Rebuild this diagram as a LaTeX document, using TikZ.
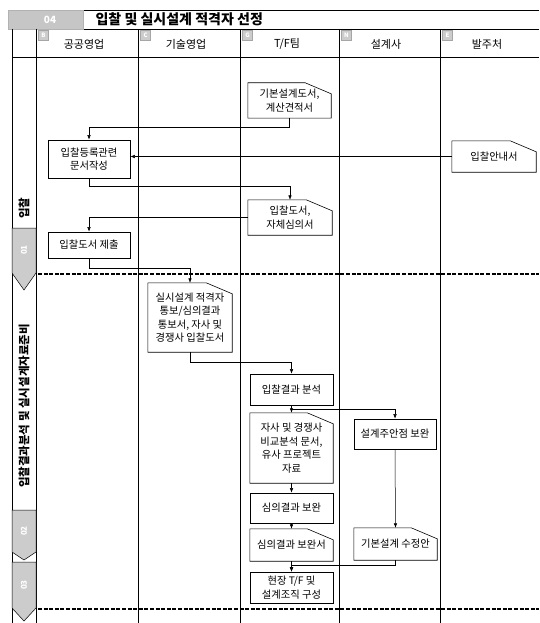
\documentclass[tikz,border=0pt]{standalone}
\usepackage{fontspec}
\setmainfont{Noto Sans CJK KR}
\usetikzlibrary{arrows.meta}
\newcommand\docout[1]{\draw[shp] (#1.south west) -- (#1.north west) -- ([xshift=-26pt]#1.north east) -- ([yshift=-11pt]#1.north east) -- (#1.south east) -- cycle;}
\begin{document}
\begin{tikzpicture}[x=1pt,y=-1pt,
  nodefont/.style={font=\fontsize{10.3}{13.5}\selectfont},
  box/.style={draw, line width=0.6pt, inner sep=0pt, align=center, nodefont, minimum width=83pt},
  doc/.style={inner sep=0pt, align=center, nodefont, minimum width=83pt},
  shp/.style={line width=0.6pt},
  arr/.style={line width=0.5pt, -{Latex[length=4.5pt,width=3.5pt]}},
  col/.style={line width=0.6pt},
  sepline/.style={line width=1.7pt, dash pattern=on 4pt off 1.6pt},
  hdr/.style={font=\fontsize{11}{12}\selectfont},
  hbadge/.style={fill=gray!40, draw=gray!70, line width=0.3pt, minimum size=10pt, inner sep=0pt, font=\fontsize{6}{6}\selectfont\bfseries, text=white},
  stepbadge/.style={fill=gray!40, draw, line width=0.5pt},
  steptext/.style={rotate=90, font=\fontsize{8}{8}\selectfont\bfseries, text=white},
  striplabel/.style={rotate=90, font=\fontsize{11.5}{12}\selectfont\bfseries}]
\useasboundingbox (0,0) rectangle (539,623);

% title bar
\draw[col] (8,10) -- (539,10);
\draw[col] (8,29) -- (539,29);
\draw[col] (12,57) -- (539,57);
\draw[fill=gray!45, draw=gray!60] (8,10) rectangle (83,29);
\node[font=\fontsize{10}{10}\selectfont\bfseries, text=white] (tb) at (50,19.5) {04};
\node[anchor=west, font=\fontsize{14}{14}\selectfont\bfseries] (title) at (92,19.5) {입찰 및 실시설계 적격자 선정};

% column lines
\foreach \x in {12,36,138,240,339,440} \draw[col] (\x,29) -- (\x,623);

% header
\node[hdr] (h1) at (84,44) {공공영업};
\node[hdr] (h2) at (186,44) {기술영업};
\node[hdr] (h3) at (287,44) {T/F팀};
\node[hdr] (h4) at (386,44) {설계사};
\node[hdr] (h5) at (487,44) {발주처};
\node[hbadge] (hb1) at (43.5,35.5) {B};
\node[hbadge] (hb2) at (145.5,35.5) {C};
\node[hbadge] (hb3) at (247.5,35.5) {G};
\node[hbadge] (hb4) at (346.5,35.5) {N};
\node[hbadge] (hb5) at (447.5,35.5) {E};

% left strip
\node[striplabel] (s1) at (24,208) {입찰};
\draw[stepbadge] (12,228) -- (36,228) -- (36,273) -- (24,290) -- (12,273) -- cycle;
\node[steptext] (st1) at (24,250) {01};
\node[striplabel] (s2) at (24,406) {입찰결과분석 및 실시설계자료준비};
\draw[stepbadge] (12,510) -- (36,510) -- (36,552) -- (24,560) -- (12,552) -- cycle;
\node[steptext] (st2) at (24,531) {02};
\draw[stepbadge] (12,562) -- (36,562) -- (36,608) -- (24,621) -- (12,608) -- cycle;
\node[steptext] (st3) at (24,585) {03};

% separators
\draw[sepline] (38,274) -- (539,274);
\draw[sepline] (38,609) -- (539,609);

% section 1 nodes
\node[doc, minimum height=35pt] (d1) at (289.5,100.5) {기본설계도서,\\계산견적서};
\docout{d1}
\node[box, minimum width=82pt, minimum height=38pt] (b1) at (89,159) {입찰등록관련\\문서작성};
\node[doc, minimum width=84pt, minimum height=31pt] (d3) at (494,156.5) {입찰안내서};
\docout{d3}
\node[doc, minimum width=84pt, minimum height=35pt] (d2) at (290,217.5) {입찰도서,\\자체심의서};
\docout{d2}
\node[box, minimum width=82pt, minimum height=26pt] (b2) at (89,245) {입찰도서 제출};

% section 2 nodes
\node[doc, minimum width=84pt, minimum height=69pt] (d4) at (190,317.5) {실시설계 적격자\\통보/심의결과\\통보서, 자사 및\\경쟁사 입찰도서};
\docout{d4}
\node[box, minimum height=31pt] (b3) at (291.5,389.5) {입찰결과 분석};
\node[doc, minimum height=70pt] (d5) at (291.5,448) {자사 및 경쟁사\\비교분석 문서,\\유사 프로젝트\\자료};
\docout{d5}
\node[box, minimum width=82pt, minimum height=30pt] (b4) at (395,434) {설계주안점 보완};
\node[box, minimum height=30pt] (b5) at (291.5,508) {심의결과 보완};
\node[doc, minimum height=32pt] (d6) at (291.5,545) {심의결과 보완서};
\docout{d6}
\node[doc, minimum height=32pt] (d7) at (395.5,544) {기본설계 수정안};
\docout{d7}
\node[box, minimum height=31pt] (b6) at (291.5,587.5) {현장 T/F 및\\설계조직 구성};

% connectors
\draw[arr] (d1.south) -- ++(0,9) -| (b1.north);
\draw[arr] (d3.west) -- (d3.west -| b1.east);
\draw[arr] (b1.south) -- ++(0,8) -| (d2.north);
\draw[arr] (d2.west) -| (b2.north);
\draw[arr] (b2.south) -- ++(0,10) -| (d4.north);
\draw[arr] (d4.south) -- ++(0,10) -| (b3.north);
\draw[arr] (b3.south) -- (d5.north);
\draw[arr] (b3.south) -- ++(0,4) -| (b4.north);
\draw[arr] (d5.south) -- (b5.north);
\draw[arr] (b5.south) -- (d6.north);
\draw[arr] (b4.south) -- (d7.north);
\draw[arr] (d6.south) -- (b6.north);
\draw[arr] (d7.south) -- ++(0,5) -| (b6.north);
\end{tikzpicture}
\end{document}
